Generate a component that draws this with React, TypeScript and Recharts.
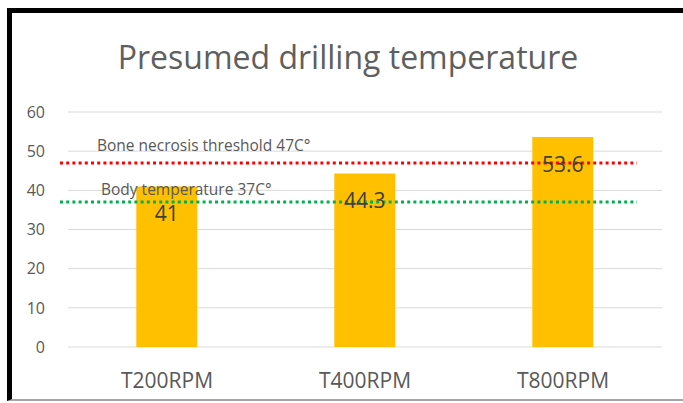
import React from "react";
import { BarChart, Bar, XAxis, YAxis, CartesianGrid, ReferenceLine, LabelList } from "recharts";

const categories = ["T200RPM", "T400RPM", "T800RPM"];
const temperatures = [41, 44.3, 53.6];
const yTicks = [0, 10, 20, 30, 40, 50, 60];
const thresholdValues = [47, 37];
const thresholdLabels = ["Bone necrosis threshold 47C°", "Body temperature 37C°"];
const thresholdColors = ["#FF0000", "#00B050"];

const data = categories.map((name, i) => ({ name, value: temperatures[i] }));

const FONT = "'Open Sans', sans-serif";

const makeShape = (label: string, color: string, labelDx: number, labelDy: number) => (props: any) => {
  const { x1, y1, x2 } = props;
  return (
    <g>
      <line x1={x1 - 8} y1={y1} x2={x2 - 25} y2={y1} stroke={color} strokeWidth={3} strokeDasharray="3 3.2" />
      <text x={x1 + labelDx} y={y1 - labelDy} fill="#595959" fontSize={15.5} fontFamily={FONT}>
        {label}
      </text>
    </g>
  );
};

export default function App() {
  return (
    <div style={{ position: "absolute", left: 0, top: 0, width: 683, height: 403, background: "#fff", overflow: "hidden" }}>
      <div
        style={{
          position: "absolute",
          left: 7,
          top: 8,
          width: 690,
          height: 393,
          borderLeft: "5px solid #000",
          borderTop: "5px solid #000",
          borderBottom: "2px solid #A6A6A6",
          boxSizing: "border-box",
        }}
      />
      <div
        style={{
          position: "absolute",
          left: 0,
          width: 696,
          top: 41,
          textAlign: "center",
          fontFamily: FONT,
          fontSize: 32,
          lineHeight: "32px",
          color: "#5f5f5f",
        }}
      >
        Presumed drilling temperature
      </div>
      <div style={{ position: "absolute", left: 0, top: 0 }}>
        <BarChart width={683} height={403} data={data} margin={{ top: 112, right: 21, bottom: 26, left: 8 }} barCategoryGap="34.5%">
          <CartesianGrid vertical={false} stroke="#D9D9D9" strokeWidth={1} />
          <XAxis
            dataKey="name"
            axisLine={false}
            tickLine={false}
            tickSize={0}
            tickMargin={26}
            height={30}
            tick={{ fill: "#595959", fontSize: 21, fontFamily: FONT }}
          />
          <YAxis
            domain={[0, 60]}
            ticks={yTicks}
            axisLine={false}
            tickLine={false}
            tickSize={0}
            tickMargin={23}
            width={60}
            tick={{ fill: "#595959", fontSize: 16, fontFamily: FONT }}
          />
          <Bar dataKey="value" fill="#FFC000" isAnimationActive={false}>
            <LabelList dataKey="value" position="insideTop" offset={20} fill="#404040" fontSize={21} fontFamily={FONT} />
          </Bar>
          <ReferenceLine y={thresholdValues[0]} stroke={thresholdColors[0]} shape={makeShape(thresholdLabels[0], thresholdColors[0], 29, 12)} />
          <ReferenceLine y={thresholdValues[1]} stroke={thresholdColors[1]} shape={makeShape(thresholdLabels[1], thresholdColors[1], 33, 7)} />
        </BarChart>
      </div>
    </div>
  );
}
